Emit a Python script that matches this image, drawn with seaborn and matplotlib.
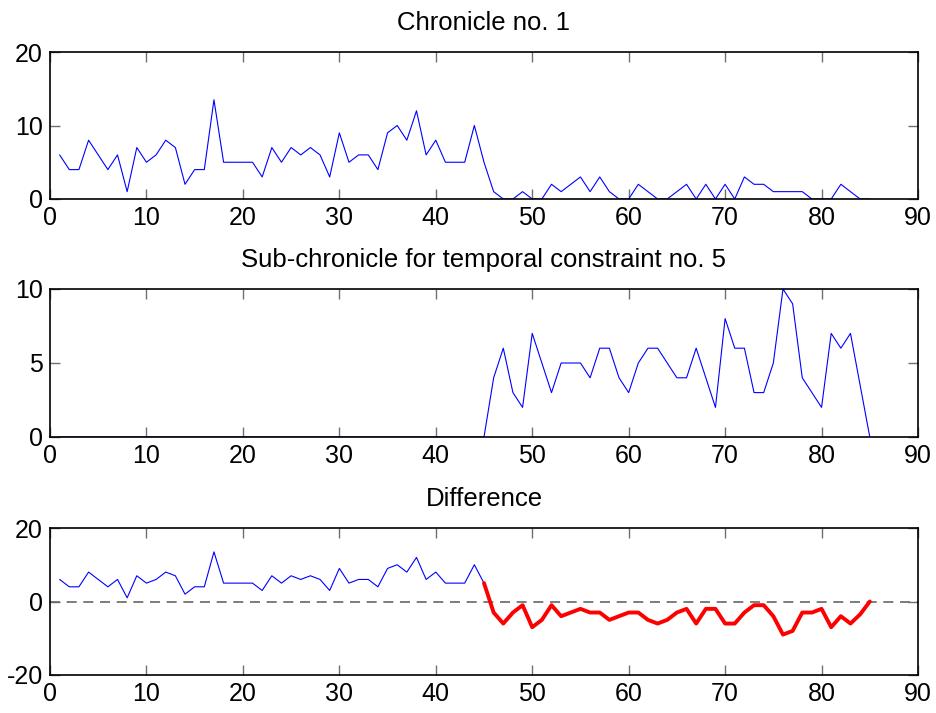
import numpy as np
import pandas as pd
import matplotlib
matplotlib.use("Agg")
import matplotlib.pyplot as plt
import seaborn as sns

sns.set_style("white")
plt.rcParams['font.family'] = ['Liberation Sans', 'DejaVu Sans']
plt.rcParams['axes.unicode_minus'] = False
plt.rcParams['text.color'] = 'black'
plt.rcParams['xtick.labelcolor'] = 'black'
plt.rcParams['ytick.labelcolor'] = 'black'

x = list(range(1, 86))
chronicle = [6, 4, 4, 8, 6, 4, 6, 1, 7, 5, 6, 8, 7, 2, 4, 4, 13.5, 5, 5, 5,
             5, 3, 7, 5, 7, 6, 7, 6, 3, 9, 5, 6, 6, 4, 9, 10, 8, 12, 6, 8,
             5, 5, 5, 10, 5, 1, 0, 0, 1, 0, 0, 2, 1, 2, 3, 1, 3, 1, 0, 0,
             2, 1, 0, 0, 1, 2, 0, 2, 0, 2, 0, 3, 2, 2, 1, 1, 1, 1, 0, 0,
             0, 2, 1, 0, 0]
subchronicle = [0] * 45 + [4, 6, 3, 2, 7, 5, 3, 5, 5, 5, 4, 6, 6, 4, 3,
                           5, 6, 6, 5, 4, 4, 6, 4, 2, 8, 6, 6, 3, 3, 5,
                           10, 9, 4, 3, 2, 7, 6, 7, 3.5, 0]
titles = ["Chronicle no. 1", "Sub-chronicle for temporal constraint no. 5", "Difference"]
yticks_list = [[0, 10, 20], [0, 5, 10], [-20, 0, 20]]
xticks = [0, 10, 20, 30, 40, 50, 60, 70, 80, 90]
split_x = 45

df = pd.DataFrame({"x": x, "chronicle": chronicle, "sub": subchronicle})
df["diff"] = df["chronicle"] - df["sub"]

fig = plt.figure(figsize=(9.37, 7.13), dpi=100)
left, width = 50 / 937, 868 / 937
tops = [52, 289, 528]
bots = [199, 437, 675]
axes = []
for t, b in zip(tops, bots):
    axes.append(fig.add_axes([left, 1 - b / 713, width, (b - t) / 713]))

blue = "#0000ff"
sns.lineplot(data=df, x="x", y="chronicle", ax=axes[0], color=blue, lw=0.8)
sns.lineplot(data=df, x="x", y="sub", ax=axes[1], color=blue, lw=0.8)
ax3 = axes[2]
ax3.axhline(0, color="#666666", ls=(0, (6, 4)), lw=1.2, zorder=1)
d1 = df[df["x"] <= split_x]
d2 = df[df["x"] >= split_x]
sns.lineplot(data=d1, x="x", y="diff", ax=ax3, color=blue, lw=0.8)
sns.lineplot(data=d2, x="x", y="diff", ax=ax3, color="#ff0000", lw=2.8)

for ax, title, yt in zip(axes, titles, yticks_list):
    ax.set_xlim(0, 90)
    ax.set_ylim(yt[0], yt[-1])
    ax.set_xticks(xticks)
    ax.set_yticks(yt)
    ax.set_xlabel("")
    ax.set_ylabel("")
    ax.set_title(title, fontsize=18.5, pad=16, color="black")
    ax.tick_params(axis="both", which="both", direction="in", length=7,
                   width=1, color="#707070", labelsize=18, pad=5,
                   labelcolor="black",
                   top=True, right=True, bottom=True, left=True)
    for s in ax.spines.values():
        s.set_visible(True)
        s.set_color("black")
        s.set_linewidth(1.2)

fig.savefig("out.png", dpi=100)
